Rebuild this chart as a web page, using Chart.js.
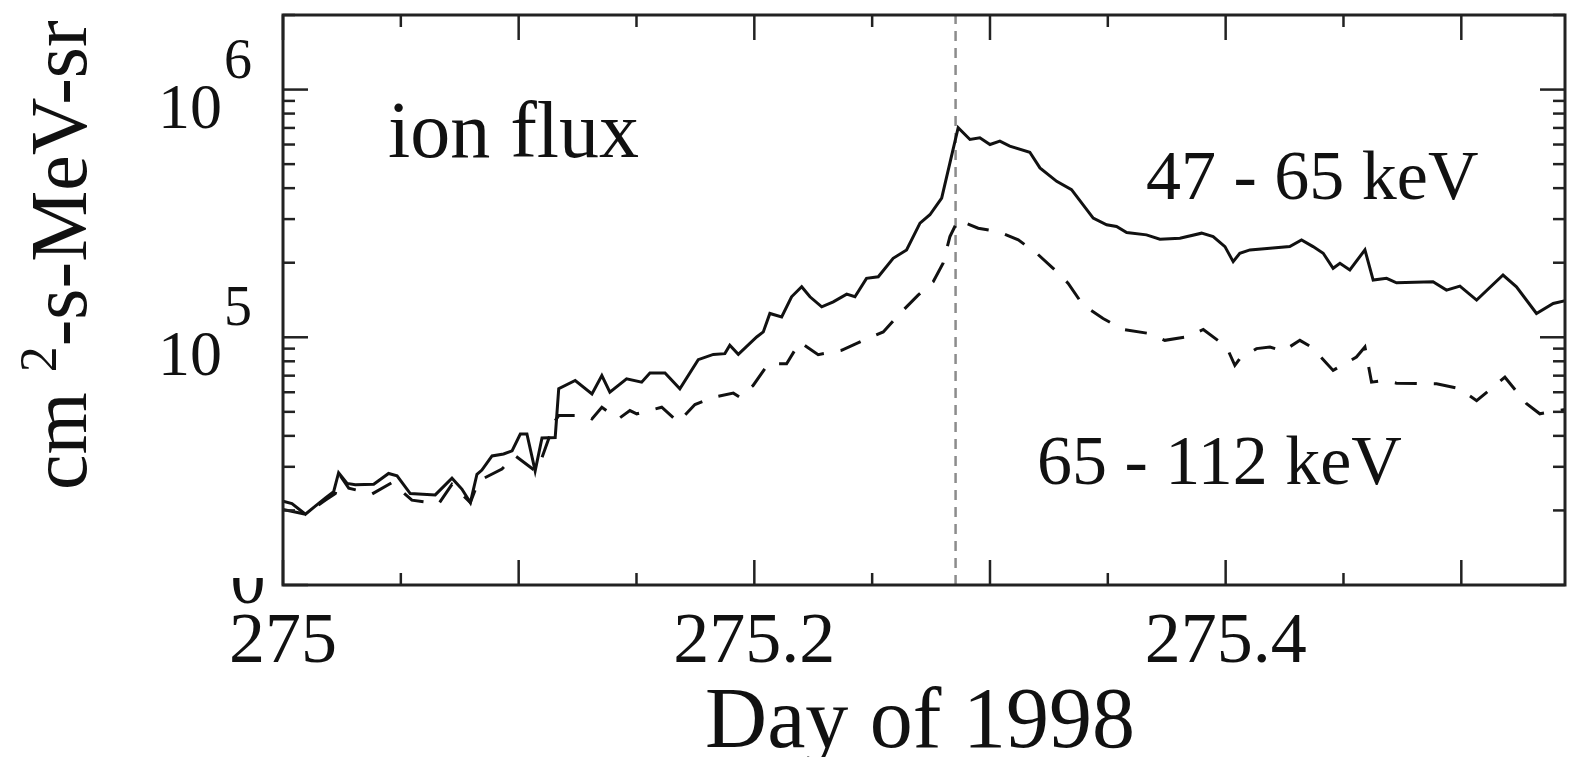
<!DOCTYPE html>
<html>
<head>
<meta charset="utf-8">
<title>ion flux</title>
<script src="https://cdn.jsdelivr.net/npm/chart.js@4.4.1/dist/chart.umd.min.js"></script>
<style>
  body { margin: 0; background: #fff; }
  canvas { display: block; }
</style>
</head>
<body>
<canvas id="fluxChart" width="1569" height="757"></canvas>
<script>
// 47 - 65 keV channel (solid)
const days47 = [275.0000, 275.0038, 275.0095, 275.0137, 275.0179, 275.0215, 275.0236, 275.0272, 275.0307, 275.0385,
  275.0448, 275.0484, 275.0540, 275.0646, 275.0717, 275.0759, 275.0795, 275.0823, 275.0844, 275.0887,
  275.0936, 275.0972, 275.1007, 275.1035, 275.1070, 275.1099, 275.1155, 275.1170, 275.1240, 275.1311,
  275.1353, 275.1387, 275.1458, 275.1522, 275.1557, 275.1621, 275.1684, 275.1762, 275.1826, 275.1875,
  275.1896, 275.1932, 275.2010, 275.2038, 275.2066, 275.2116, 275.2158, 275.2201, 275.2236, 275.2286,
  275.2335, 275.2392, 275.2427, 275.2476, 275.2526, 275.2589, 275.2646, 275.2703, 275.2745, 275.2795,
  275.2830, 275.2865, 275.2915, 275.2957, 275.3000, 275.3042, 275.3084, 275.3169, 275.3212, 275.3283,
  275.3346, 275.3438, 275.3495, 275.3537, 275.3580, 275.3664, 275.3721, 275.3806, 275.3898, 275.3947,
  275.3997, 275.4032, 275.4060, 275.4103, 275.4188, 275.4272, 275.4322, 275.4371, 275.4414, 275.4456,
  275.4485, 275.4527, 275.4591, 275.4626, 275.4683, 275.4725, 275.4880, 275.4937, 275.4994, 275.5065,
  275.5177, 275.5234, 275.5319, 275.5390, 275.5453];
const flux47 = [21800, 21300, 19300, 20800, 22400, 23800, 28400, 25700, 25400, 25500,
  28200, 27600, 23400, 23100, 27000, 24400, 21500, 28000, 29100, 33200,
  33800, 34800, 40700, 40700, 28900, 39200, 39400, 62000, 66900, 59100,
  70100, 60000, 68000, 65900, 71700, 71700, 62000, 81200, 85300, 85900,
  92800, 85300, 100300, 105100, 124800, 120900, 145700, 159900, 145700, 132700,
  139000, 149400, 145700, 172900, 175500, 208400, 225200, 289000, 312300, 364900,
  505900, 701500, 628900, 639000, 600300, 619100, 590800, 558600, 482800, 426100,
  394400, 302900, 284400, 280000, 264700, 259100, 248900, 251200, 263200, 255000,
  232300, 202000, 218400, 225200, 228800, 232300, 247300, 232300, 218400, 189900,
  199000, 186900, 225200, 170200, 172900, 166000, 167600, 155000, 160900, 141300,
  178400, 159900, 124800, 137000, 141300];

// 65 - 112 keV channel (dashed)
const days65 = [275.0000, 275.0095, 275.0179, 275.0222, 275.0243, 275.0279, 275.0378, 275.0462, 275.0547, 275.0661,
  275.0717, 275.0795, 275.0830, 275.0929, 275.0986, 275.1070, 275.1099, 275.1155, 275.1170, 275.1283,
  275.1311, 275.1353, 275.1423, 275.1472, 275.1501, 275.1607, 275.1677, 275.1748, 275.1826, 275.1911,
  275.1939, 275.1995, 275.2059, 275.2137, 275.2193, 275.2271, 275.2370, 275.2469, 275.2547, 275.2618,
  275.2695, 275.2759, 275.2801, 275.2830, 275.2865, 275.2915, 275.2950, 275.3035, 275.3120, 275.3198,
  275.3268, 275.3332, 275.3395, 275.3480, 275.3565, 275.3678, 275.3742, 275.3834, 275.3905, 275.4004,
  275.4039, 275.4060, 275.4131, 275.4188, 275.4244, 275.4315, 275.4364, 275.4456, 275.4555, 275.4591,
  275.4619, 275.4668, 275.4725, 275.4895, 275.4994, 275.5065, 275.5185, 275.5277, 275.5333, 275.5453];
const flux65 = [20200, 19300, 22000, 23400, 27600, 24600, 23300, 25900, 22000, 21300,
  25500, 21500, 26300, 29400, 33200, 28900, 32700, 46100, 48300, 48300,
  46800, 52200, 46800, 50600, 49100, 52200, 45400, 53500, 57300, 59500,
  57300, 63900, 78200, 78200, 95700, 85100, 88600, 97900, 105100, 124800,
  148000, 167600, 199000, 255000, 298100, 284400, 275700, 267200, 247300, 218400,
  189900, 165100, 134800, 119100, 107500, 103500, 97200, 100300, 107500, 91400,
  77000, 82000, 90000, 91400, 88000, 97200, 91400, 73500, 83200, 91400,
  65900, 66900, 65300, 64900, 62000, 55500, 69000, 53900, 49100, 51400];

const shockDay = 275.2854; // vertical dashed marker

// axis ticks
const xMajorTicks = [275, 275.1, 275.2, 275.3, 275.4, 275.5];
const xMinorTicks = [275.05, 275.15, 275.25, 275.35, 275.45];
const xTickLabels = ['275', '275.2', '275.4'];
const yDecades = [4, 5, 6];
const yLabelDecades = [5, 6];

const FONT = '"Liberation Serif", "Times New Roman", serif';
const INK = '#111';

function line(ctx, x1, y1, x2, y2) {
  ctx.beginPath();
  ctx.moveTo(x1, y1);
  ctx.lineTo(x2, y2);
  ctx.stroke();
}

// frame, inward ticks on all four sides, and all the text
const framePlugin = {
  id: 'framePlugin',
  afterDraw(chart) {
    const { ctx, chartArea: a, scales: { x, y } } = chart;
    ctx.save();
    ctx.strokeStyle = '#222';
    ctx.lineWidth = 3;
    ctx.strokeRect(a.left, a.top, a.right - a.left, a.bottom - a.top);

    ctx.lineWidth = 2.5;
    xMajorTicks.forEach(v => {
      const px = x.getPixelForValue(v);
      if (px > a.right + 1) return;
      line(ctx, px, a.bottom, px, a.bottom - 25);
      line(ctx, px, a.top, px, a.top + 25);
    });
    xMinorTicks.forEach(v => {
      const px = x.getPixelForValue(v);
      line(ctx, px, a.bottom, px, a.bottom - 12);
      line(ctx, px, a.top, px, a.top + 12);
    });
    yDecades.forEach(e => {
      for (let m = 1; m <= 9; m++) {
        const v = m * Math.pow(10, e);
        if (v > y.max) break;
        const py = y.getPixelForValue(v);
        const len = m === 1 ? 25 : 12;
        line(ctx, a.left, py, a.left + len, py);
        line(ctx, a.right, py, a.right - len, py);
      }
    });

    ctx.fillStyle = INK;
    // x tick labels
    ctx.font = '72px ' + FONT;
    ctx.textAlign = 'center';
    ctx.textBaseline = 'alphabetic';
    xTickLabels.forEach(t => {
      ctx.fillText(t, x.getPixelForValue(parseFloat(t)), 662);
    });

    // y tick labels as 10 with a raised exponent
    yLabelDecades.forEach(e => {
      const py = y.getPixelForValue(Math.pow(10, e));
      ctx.font = '64px ' + FONT;
      ctx.textAlign = 'right';
      ctx.fillText('10', 222, py + 38);
      ctx.font = '56px ' + FONT;
      ctx.textAlign = 'left';
      ctx.fillText(String(e), 224, py - 12);
    });
    // bottom label, mostly hidden
    ctx.save();
    ctx.beginPath();
    ctx.rect(180, 578, 100, 40);
    ctx.clip();
    ctx.font = '70px ' + FONT;
    ctx.textAlign = 'center';
    ctx.fillText('0', 248, 603);
    ctx.restore();

    // annotations
    ctx.textAlign = 'left';
    ctx.font = '80px ' + FONT;
    ctx.fillText('ion flux', 388, 157);
    ctx.font = '70px ' + FONT;
    ctx.fillText('47 - 65 keV', 1146, 199);
    ctx.fillText('65 - 112 keV', 1037, 484);

    // axis titles
    ctx.textAlign = 'center';
    ctx.font = '86px ' + FONT;
    ctx.fillText('Day of 1998', 920, 747);

    ctx.save();
    ctx.translate(86, 490);
    ctx.rotate(-Math.PI / 2);
    ctx.textAlign = 'left';
    ctx.font = '80px ' + FONT;
    ctx.fillText('cm', 0, 0);
    let off = ctx.measureText('cm ').width;
    ctx.font = '52px ' + FONT;
    ctx.fillText('2', off, -30);
    off += ctx.measureText('2').width;
    ctx.font = '80px ' + FONT;
    ctx.fillText('-s-MeV-sr', off, 0);
    ctx.restore();

    ctx.restore();
  }
};

function toPoints(xs, ys) {
  return xs.map((d, i) => ({ x: d, y: ys[i] }));
}

function drawChart() {
  const ctx = document.getElementById('fluxChart').getContext('2d');
  new Chart(ctx, {
    type: 'line',
    data: {
      datasets: [
        {
          label: '47 - 65 keV',
          data: toPoints(days47, flux47),
          borderColor: INK,
          borderWidth: 3,
          pointRadius: 0,
          tension: 0
        },
        {
          label: '65 - 112 keV',
          data: toPoints(days65, flux65),
          borderColor: INK,
          borderWidth: 3,
          borderDash: [22, 17],
          pointRadius: 0,
          tension: 0
        },
        {
          label: 'shock',
          data: [{ x: shockDay, y: 1e4 }, { x: shockDay, y: 2e6 }],
          borderColor: '#8c8c8c',
          borderWidth: 2.5,
          borderDash: [10, 7],
          pointRadius: 0
        }
      ]
    },
    options: {
      responsive: false,
      animation: false,
      layout: { padding: { left: 283, right: 4, top: 15, bottom: 172 } },
      plugins: { legend: { display: false }, tooltip: { enabled: false } },
      scales: {
        x: { type: 'linear', min: 275, max: 275.544, display: false },
        y: { type: 'logarithmic', min: 1e4, max: 2e6, display: false }
      }
    },
    plugins: [framePlugin]
  });
}

document.fonts.load('70px "Liberation Serif"').then(drawChart, drawChart);
</script>
</body>
</html>
